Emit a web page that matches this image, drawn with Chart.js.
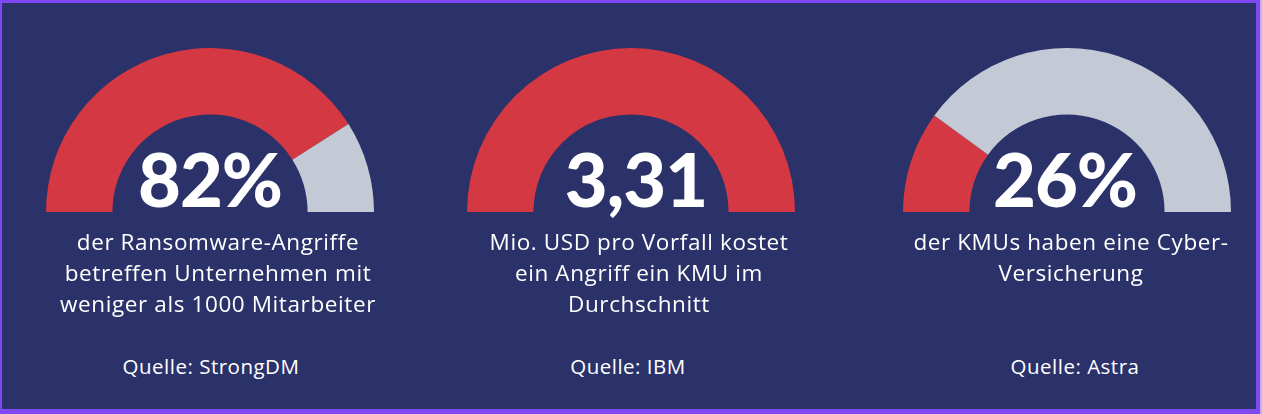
<!DOCTYPE html>
<html>
<head>
<meta charset="utf-8">
<script src="https://cdn.jsdelivr.net/npm/chart.js@4.4.1/dist/chart.umd.min.js"></script>
<style>
  html, body { margin: 0; padding: 0; }
  body { width: 1262px; height: 414px; background: #7f48f2; position: relative; overflow: hidden; }
  #edge { position: absolute; right: 0; top: 0; width: 2px; height: 414px; background: #c4aef8; }
  #panel { position: absolute; left: 2px; top: 3px; width: 1254px; height: 406px; background: #2b3169; }
  canvas.g { position: absolute; }
  .big { position: absolute; color: #fff; font-family: "Lato", sans-serif; font-weight: 900; font-size: 74px; line-height: 1; letter-spacing: -1px; text-align: center; width: 320px; white-space: nowrap; }
  .desc { position: absolute; color: #fff; font-family: "Open Sans", sans-serif; font-size: 22.5px; line-height: 31px; letter-spacing: 0.6px; text-align: center; width: 400px; white-space: nowrap; }
  .src { position: absolute; color: #fff; font-family: "Open Sans", sans-serif; font-size: 20.5px; line-height: 1; letter-spacing: 0.5px; text-align: center; width: 300px; white-space: nowrap; }
</style>
</head>
<body>
<div id="panel"></div>
<div id="edge"></div>
<canvas class="g" id="g0"></canvas>
<canvas class="g" id="g1"></canvas>
<canvas class="g" id="g2"></canvas>
<script>
// ---- data ----
const gaugeLabels = ["82%", "3,31", "26%"];
const filledShare = [82, 100, 20];          // red portion of each arc as drawn (percent of half circle)
const remainingShare = [18, 0, 80];         // grey remainder
const descriptions = [
  ["der Ransomware-Angriffe", "betreffen Unternehmen mit", "weniger als 1000 Mitarbeiter"],
  ["Mio. USD pro Vorfall kostet", "ein Angriff ein KMU im", "Durchschnitt"],
  ["der KMUs haben eine Cyber-", "Versicherung"]
];
const sources = ["Quelle: StrongDM", "Quelle: IBM", "Quelle: Astra"];

// ---- layout ----
const centersX = [210, 631, 1067];
const bigCentersX = [210, 636, 1065];
const descCentersX = [218, 639, 1071];
const srcCentersX = [211, 628, 1075];
const baseY = 212, R = 164, padB = 16;
const RED = "#d43842", GREY = "#c3c9d5";

centersX.forEach((cx, i) => {
  const cv = document.getElementById("g" + i);
  cv.width = 2 * R; cv.height = R + padB;
  cv.style.left = (cx - R) + "px";
  cv.style.top = (baseY - R) + "px";
  cv.style.width = (2 * R) + "px";
  cv.style.height = (R + padB) + "px";
  new Chart(cv, {
    type: "doughnut",
    data: {
      labels: ["Anteil", "Rest"],
      datasets: [{
        data: [filledShare[i], remainingShare[i]],
        backgroundColor: [RED, GREY],
        borderWidth: 0,
        hoverOffset: 0
      }]
    },
    options: {
      responsive: false,
      devicePixelRatio: 1,
      animation: false,
      rotation: -90,
      circumference: 180,
      cutout: "59.5%",
      layout: { padding: { top: 0, left: 0, right: 0, bottom: padB } },
      plugins: { legend: { display: false }, tooltip: { enabled: false } }
    }
  });

  const big = document.createElement("div");
  big.className = "big";
  big.textContent = gaugeLabels[i];
  big.style.left = (bigCentersX[i] - 160) + "px";
  big.style.top = "142px";
  document.body.appendChild(big);

  const d = document.createElement("div");
  d.className = "desc";
  d.innerHTML = descriptions[i].join("<br>");
  d.style.left = (descCentersX[i] - 200) + "px";
  d.style.top = "226px";
  document.body.appendChild(d);

  const s = document.createElement("div");
  s.className = "src";
  s.textContent = sources[i];
  s.style.left = (srcCentersX[i] - 150) + "px";
  s.style.top = "356px";
  document.body.appendChild(s);
});
</script>
</body>
</html>
